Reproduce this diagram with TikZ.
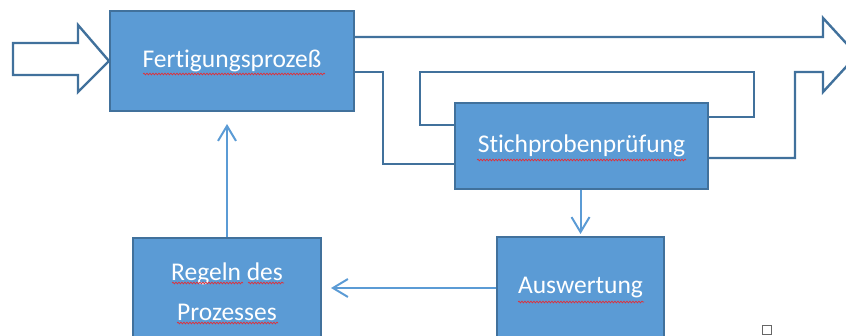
\documentclass[tikz,border=0pt]{standalone}
\usepackage{fontspec}
\setmainfont{Carlito}[Ligatures=NoCommon]
\usetikzlibrary{arrows.meta,decorations.pathmorphing,calc}
\definecolor{boxfill}{HTML}{5B9BD5}
\definecolor{boxline}{HTML}{41719C}
\definecolor{squig}{HTML}{E0303A}
\begin{document}
\begin{tikzpicture}[x=1pt,y=-1pt,
  blk/.style={draw=boxline,line width=2pt,fill=boxfill,text=white,font=\fontsize{25.5}{40}\selectfont,align=center,inner sep=0pt},
  flow/.style={draw=boxline,line width=2.4pt,line join=miter},
  link/.style={draw=boxfill,line width=2pt,-{Straight Barb[length=15pt,width=18pt]}},
  spell/.style={draw=squig,line width=0.7pt,decorate,decoration={snake,amplitude=0.9pt,segment length=3pt}}]
\useasboundingbox (0,0) rectangle (846,336);
\begin{scope}
\clip (0,0) rectangle (846,336);
% boxes
\node[blk,minimum width=244pt,minimum height=100pt] (fert) at (232,61) {Fertigungsprozeß};
\node[blk,minimum width=253pt,minimum height=86pt] (stich) at (581.5,146) {Stichprobenprüfung};
\node[blk,minimum width=188pt,minimum height=108pt] (reg) at (227,292) {Regeln des\\Prozesses};
\node[blk,minimum width=167pt,minimum height=102pt] (ausw) at (580.5,288) {Auswertung};
% horizontal levels of the hollow arrow
\coordinate (ytop) at (0,37);
\coordinate (ymid) at (0,72);
\coordinate (yr1) at (0,117);
\coordinate (yl1) at (0,125);
\coordinate (yr2) at (0,158);
\coordinate (yl2) at (0,164);
% input arrow
\draw[flow,fill=white] (13,43) -- (78,43) -- (78,25) -- (fert.west) -- (78,92) -- (78,75) -- (13,75) -- cycle;
% output arrow outline
\draw[flow] (fert.east |- ytop) -- (823,37) -- (823,18) -- (857,55) -- (823,92) -- (823,72) -- (795,72) -- (795,158) -- (stich.east |- yr2);
\draw[flow] (stich.east |- yr1) -- (754,117) -- (754,72) -- (420,72) -- (420,125) -- (stich.west |- yl1);
\draw[flow] (stich.west |- yl2) -- (383,164) -- (383,72) -- (fert.east |- ymid);
% connectors
\draw[link,shorten >=2pt] (ausw.north |- stich.south) -- (ausw.north);
\draw[link,shorten >=9pt] (ausw.west) -- (ausw.west -| reg.east);
\draw[link,shorten >=12pt] (reg.north) -- (reg.north |- fert.south);
% spell-check marks
\draw[spell] (143,74) -- (325,74);
\draw[spell] (477,160) -- (686,160);
\draw[spell] (172,283) -- (243,283);
\draw[spell] (248,283) -- (284,283);
\draw[spell] (177,323) -- (278,323);
\draw[spell] (518,302) -- (644,302);
% small square
\draw[gray!80!black,line width=0.8pt] (762,325) rectangle (771,334);
\end{scope}
\end{tikzpicture}
\end{document}
